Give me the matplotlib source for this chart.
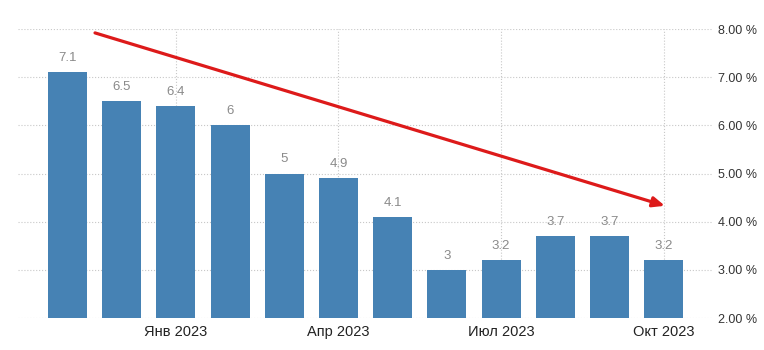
import matplotlib.pyplot as plt
from matplotlib.ticker import FuncFormatter

plt.rcParams['font.family'] = ['Liberation Sans', 'DejaVu Sans']

# Monthly inflation, Nov 2022 - Oct 2023
months = ['Ноя 2022', 'Дек 2022', 'Янв 2023', 'Фев 2023', 'Мар 2023', 'Апр 2023',
          'Май 2023', 'Июн 2023', 'Июл 2023', 'Авг 2023', 'Сен 2023', 'Окт 2023']
values = [7.1, 6.5, 6.4, 6, 5, 4.9, 4.1, 3, 3.2, 3.7, 3.7, 3.2]
value_labels = ['7.1', '6.5', '6.4', '6', '5', '4.9', '4.1', '3', '3.2', '3.7', '3.7', '3.2']
shown_ticks = [2, 5, 8, 11]
y_ticks = [2, 3, 4, 5, 6, 7, 8]

# trend arrow (start, end) in data units
trend_start = (0.51, 7.92)
trend_end = (11.02, 4.33)

fig = plt.figure(figsize=(7.64, 3.5), dpi=100)
ax = fig.add_axes([0.0236, 0.0914, 0.9084, 0.8256])

x = list(range(len(values)))
ax.bar(x, values, width=0.72, color='#4682b4', zorder=2)

for xi, v, lab in zip(x, values, value_labels):
    ax.annotate(lab, (xi, v), xytext=(0, 6), textcoords='offset points',
                ha='center', va='bottom', fontsize=9.5, color='#8a8a8a')

ax.set_xlim(-0.91, 11.89)
ax.set_ylim(2, 8)
ax.set_xticks([x[i] for i in shown_ticks])
ax.set_xticklabels([months[i] for i in shown_ticks], fontsize=10.5, color='#222222')
ax.set_yticks(y_ticks)
ax.yaxis.set_major_formatter(FuncFormatter(lambda v, p: f'{v:.2f} %'))
ax.yaxis.tick_right()
ax.tick_params(axis='y', labelsize=9, colors='#333333', length=0, pad=4)
ax.tick_params(axis='x', length=0, pad=5)

ax.grid(True, linestyle=':', color='#c8c8c8', linewidth=0.8, zorder=0)
for s in ax.spines.values():
    s.set_visible(False)

ax.annotate('', xy=trend_end, xytext=trend_start,
            arrowprops=dict(arrowstyle='-|>,head_length=0.7,head_width=0.3',
                            color='#dd1a1a', lw=2.3, shrinkA=0, shrinkB=0),
            zorder=5)

fig.savefig('out.png', dpi=100)
